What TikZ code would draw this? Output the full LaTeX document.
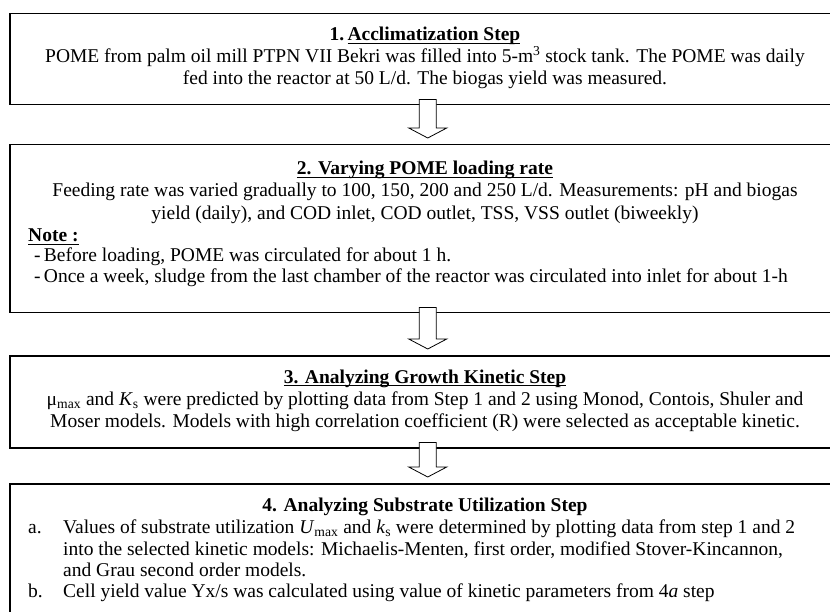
\documentclass[tikz,border=0pt]{standalone}
\usepackage{fontspec}
\setmainfont{Liberation Serif}
\newcommand{\ulbar}[1]{\setbox0\hbox{#1}\rlap{\rule[-3pt]{\wd0}{1.3pt}}\box0}

\begin{document}
\begin{tikzpicture}[x=1pt,y=1pt,
  stepbox/.style={draw, line width=1.5pt, anchor=north west, minimum width=836pt},
  headline/.style={anchor=base, font=\bfseries\fontsize{19.5}{22}\selectfont},
  midline/.style={anchor=base, font=\fontsize{19.5}{22}\selectfont},
  leftline/.style={anchor=base west, font=\fontsize{19.5}{22}\selectfont},
  hollowarrow/.style={draw, fill=white, line width=0.8pt}]
\tikzstyle{every node}+=[inner sep=0pt]
\useasboundingbox (0,0) rectangle (830,-612);
\clip (0,0) rectangle (830,-612);
\node[stepbox, minimum height=91pt] (box1) at (9,-13) {};
\node[headline] (t1) at (425,-41) {1.\,\ulbar{Acclimatization Step}};
\node[midline] (t1a) at (425,-63) {POME from palm oil mill PTPN VII Bekri was filled into 5-m\textsuperscript{3} stock tank. The POME was daily};
\node[midline] (t1b) at (425,-85) {fed into the reactor at 50 L/d. The biogas yield was measured.};
\node[stepbox, minimum height=168pt] (box2) at (9,-144) {};
\node[headline] (t2) at (425,-175) {\ulbar{2. Varying POME loading rate}};
\node[midline] (t2a) at (425,-197) {Feeding rate was varied gradually to 100, 150, 200 and 250 L/d. Measurements: pH and biogas};
\node[midline] (t2b) at (425,-220) {yield (daily), and COD inlet, COD outlet, TSS, VSS outlet (biweekly)};
\node[headline, anchor=base west] (n2) at (28,-242) {\ulbar{Note :}};
\node[leftline] (n2a) at (34,-262) {-\,Before loading, POME was circulated for about 1 h.};
\node[leftline] (n2b) at (34,-283) {-\,Once a week, sludge from the last chamber of the reactor was circulated into inlet for about 1-h};
\node[stepbox, minimum height=92pt] (box3) at (9,-355) {};
\node[headline] (t3) at (425,-383) {\ulbar{3. Analyzing Growth Kinetic Step}};
\node[midline] (t3a) at (425,-405) {μ\textsubscript{max} and \textit{K}\textsubscript{s} were predicted by plotting data from Step 1 and 2 using Monod, Contois, Shuler and};
\node[midline] (t3b) at (425,-427) {Moser models. Models with high correlation coefficient (R) were selected as acceptable kinetic.};
\node[stepbox, minimum height=150pt] (box4) at (9,-483) {};
\node[headline] (t4) at (425,-511) {4. Analyzing Substrate Utilization Step};
\node[leftline] (a4) at (28,-533) {a.};
\node[leftline] (a4a) at (63,-533) {Values of substrate utilization \textit{U}\textsubscript{max} and \textit{k}\textsubscript{s} were determined by plotting data from step 1 and 2};
\node[leftline] (a4b) at (63,-555) {into the selected kinetic models: Michaelis-Menten, first order, modified Stover-Kincannon,};
\node[leftline] (a4c) at (63,-576) {and Grau second order models.};
\node[leftline] (b4) at (28,-597) {b.};
\node[leftline] (b4a) at (63,-597) {Cell yield value Yx/s was calculated using value of kinetic parameters from 4\textit{a} step};
\foreach \up/\dn in {box1/box2, box2/box3, box3/box4}
  \draw[hollowarrow] ([shift={(-8.5,6)}]\up.south) -- ([shift={(-8.5,16)}]\dn.north)
    -- ([shift={(-19,16)}]\dn.north) -- ([shift={(0,6)}]\dn.north)
    -- ([shift={(19,16)}]\dn.north) -- ([shift={(8.5,16)}]\dn.north)
    -- ([shift={(8.5,6)}]\up.south) -- cycle;
\end{tikzpicture}
\end{document}
